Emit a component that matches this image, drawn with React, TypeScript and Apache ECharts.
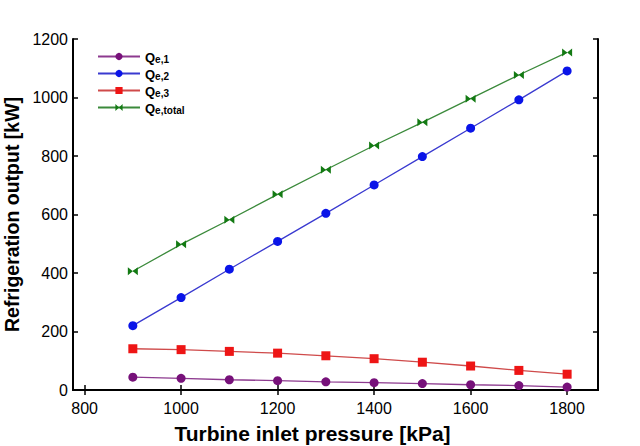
import React, { useEffect, useRef } from "react";
import * as echarts from "echarts";

const pressures = [900, 1000, 1100, 1200, 1300, 1400, 1500, 1600, 1700, 1800];
const qe1 = [44, 40, 35, 32, 28, 25, 22, 18, 15, 10];
const qe2 = [220, 316, 413, 508, 604, 701, 798, 895, 992, 1091];
const qe3 = [141, 138, 132, 126, 117, 107, 95, 82, 67, 54];
const qeTotal = [406, 498, 582, 669, 753, 836, 915, 996, 1077, 1154];
const xTicks = [800, 1000, 1200, 1400, 1600, 1800];
const yTicks = [0, 200, 400, 600, 800, 1000, 1200];
const seriesNames = ["Qe,1", "Qe,2", "Qe,3", "Qe,total"];

const bowtie = "path://M0,0 L0,10 L7,5 Z M14,0 L14,10 L7,5 Z";

export default function App() {
  const ref = useRef<HTMLDivElement>(null);
  useEffect(() => {
    if (!ref.current) return;
    const chart = echarts.init(ref.current, null, { renderer: "svg" });
    const pair = (arr: number[]) => pressures.map((p, i) => [p, arr[i]]);
    const font = "Liberation Sans, Arial, sans-serif";
    const plain = (v: number) => String(v);
    const xBase = {
      type: "value",
      min: 776,
      max: 1864,
      axisLine: { show: true, lineStyle: { color: "#000", width: 2 } },
      splitLine: { show: false },
      axisTick: { show: true, inside: true, length: 5, customValues: xTicks, lineStyle: { color: "#000", width: 1.5 } },
    };
    const yBase = {
      type: "value",
      min: 0,
      max: 1200,
      axisLine: { show: true, lineStyle: { color: "#000", width: 2 } },
      splitLine: { show: false },
      axisTick: { show: true, inside: true, length: 5, customValues: yTicks, lineStyle: { color: "#000", width: 1.5 } },
    };
    chart.setOption({
      animation: false,
      backgroundColor: "#fff",
      grid: { left: 73, right: 42, top: 39, bottom: 56, outerBoundsMode: "none", containLabel: false },
      legend: {
        orient: "vertical",
        left: 92,
        top: 45,
        itemWidth: 42,
        itemHeight: 9,
        itemGap: 3,
        data: seriesNames,
        formatter: (name: string) => `{m|Q}{s|${name.slice(1)}}`,
        textStyle: {
          fontFamily: font,
          fontWeight: "bold",
          color: "#000",
          rich: {
            m: { fontSize: 13, fontWeight: "bold", fontFamily: font, lineHeight: 15, verticalAlign: "bottom" },
            s: { fontSize: 10, fontWeight: "bold", fontFamily: font, lineHeight: 11, verticalAlign: "bottom", padding: [4, 0, 0, 0] },
          },
        },
      },
      xAxis: [
        {
          ...xBase,
          position: "bottom",
          name: "Turbine inlet pressure [kPa]",
          nameLocation: "middle",
          nameGap: 33,
          nameTextStyle: { fontFamily: font, fontSize: 21, fontWeight: "bold", color: "#000", padding: [0, 46, 0, 0] },
          axisLabel: { customValues: xTicks, formatter: plain, fontFamily: font, fontSize: 16, color: "#000", margin: 10 },
        },
        { ...xBase, position: "top", axisLabel: { show: false } },
      ],
      yAxis: [
        {
          ...yBase,
          position: "left",
          name: "Refrigeration output [kW]",
          nameLocation: "middle",
          nameGap: 44,
          nameTextStyle: { fontFamily: font, fontSize: 19.5, fontWeight: "bold", color: "#000" },
          axisLabel: { customValues: yTicks, formatter: plain, fontFamily: font, fontSize: 16, color: "#000", margin: 5 },
        },
        { ...yBase, position: "right", axisLabel: { show: false } },
      ],
      series: [
        {
          name: "Qe,1",
          type: "line",
          data: pair(qe1),
          symbol: "circle",
          symbolSize: 9,
          itemStyle: { color: "#77117a" },
          lineStyle: { color: "#8d3a8f", width: 1.3 },
        },
        {
          name: "Qe,2",
          type: "line",
          data: pair(qe2),
          symbol: "circle",
          symbolSize: 9,
          itemStyle: { color: "#0a14e8" },
          lineStyle: { color: "#3a3ad0", width: 1.3 },
        },
        {
          name: "Qe,3",
          type: "line",
          data: pair(qe3),
          symbol: "rect",
          symbolSize: 9,
          itemStyle: { color: "#ee1515" },
          lineStyle: { color: "#cf4a4a", width: 1.3 },
        },
        {
          name: "Qe,total",
          type: "line",
          data: pair(qeTotal),
          symbol: bowtie,
          symbolSize: [10, 8],
          itemStyle: { color: "#137a13" },
          lineStyle: { color: "#3b8a3b", width: 1.3 },
        },
      ],
    });
    return () => chart.dispose();
  }, []);
  return (
    <div
      ref={ref}
      style={{ position: "fixed", left: 0, top: 0, width: 640, height: 446, background: "#fff" }}
    />
  );
}
